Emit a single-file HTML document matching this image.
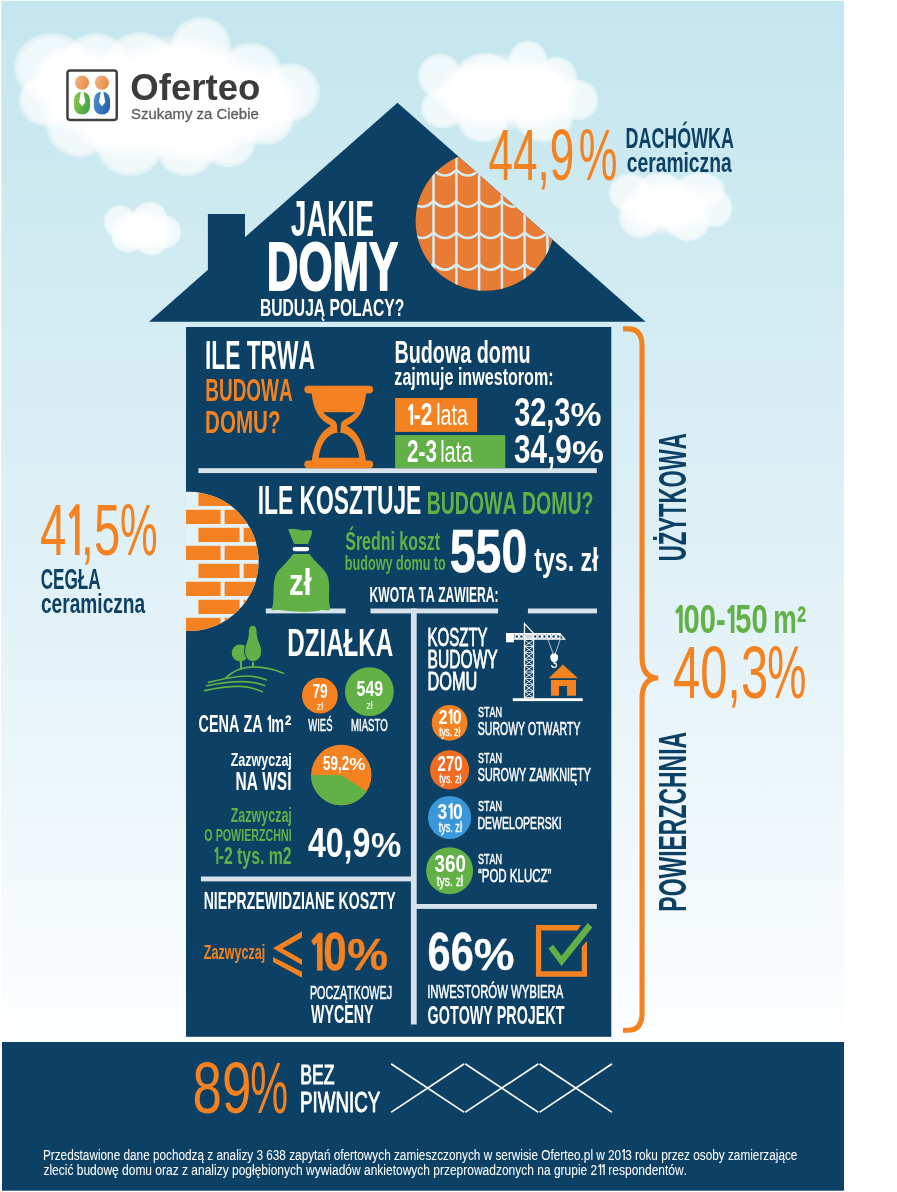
<!DOCTYPE html>
<html lang="pl">
<head>
<meta charset="utf-8">
<title>Jakie domy budują Polacy? – Oferteo</title>
<style>
html,body{margin:0;padding:0;background:#fff;}
body{width:897px;height:1192px;overflow:hidden;position:relative;}
svg{display:block;position:absolute;left:0;top:0;}
text{font-family:"Liberation Sans",sans-serif;font-kerning:none;white-space:pre;}
</style>
</head>
<body>
<svg width="897" height="1192" viewBox="0 0 897 1192">
<defs>
<linearGradient id="sky" x1="0" y1="0" x2="0" y2="1">
<stop offset="0" stop-color="#c4e6ee"/><stop offset="0.55" stop-color="#e0f1f7"/><stop offset="1" stop-color="#fdfeff"/>
</linearGradient>
<radialGradient id="cl"><stop offset="0" stop-color="#fff" stop-opacity="1"/><stop offset="0.6" stop-color="#fff" stop-opacity="1"/><stop offset="1" stop-color="#fff" stop-opacity="0"/></radialGradient>
<radialGradient id="cl2"><stop offset="0" stop-color="#fff" stop-opacity="0.72"/><stop offset="0.8" stop-color="#fff" stop-opacity="0.72"/><stop offset="0.93" stop-color="#fff" stop-opacity="0.45"/><stop offset="1" stop-color="#fff" stop-opacity="0"/></radialGradient>
<clipPath id="roofclip"><path d="M397.5 102.7 L645.6 321.8 L149 321.8 Z"/></clipPath>
<clipPath id="tileclip"><circle cx="485.3" cy="221.1" r="69.7"/></clipPath>
<clipPath id="brickclip"><circle cx="189" cy="561.4" r="69.6"/></clipPath>
<clipPath id="houseclip"><rect x="186" y="327" width="425.3" height="709.8"/></clipPath>
<linearGradient id="gOr" x1="0" y1="0" x2="1" y2="0.3"><stop offset="0" stop-color="#f2b683"/><stop offset="1" stop-color="#e98f4b"/></linearGradient>
<linearGradient id="gGr" x1="0" y1="0" x2="1" y2="0.3"><stop offset="0" stop-color="#8dc63f"/><stop offset="1" stop-color="#48a546"/></linearGradient>
<linearGradient id="gBl" x1="0" y1="0" x2="1" y2="0.3"><stop offset="0" stop-color="#5291d0"/><stop offset="1" stop-color="#2862ad"/></linearGradient>
</defs>
<rect x="1.2" y="0.8" width="842.8" height="1041.7" fill="url(#sky)"/>
<g><ellipse cx="52" cy="67" rx="39" ry="35" fill="url(#cl2)"/><ellipse cx="47" cy="100" rx="29" ry="27" fill="url(#cl2)"/><ellipse cx="80" cy="125" rx="35" ry="33" fill="url(#cl2)"/><ellipse cx="130" cy="144" rx="35" ry="33" fill="url(#cl2)"/><ellipse cx="186" cy="149" rx="30" ry="28" fill="url(#cl2)"/><ellipse cx="228" cy="141" rx="29" ry="27" fill="url(#cl2)"/><ellipse cx="265" cy="119" rx="29" ry="27" fill="url(#cl2)"/><ellipse cx="290" cy="92" rx="31" ry="30" fill="url(#cl2)"/><ellipse cx="250" cy="70" rx="32" ry="28" fill="url(#cl2)"/><ellipse cx="201" cy="46" rx="31" ry="30" fill="url(#cl2)"/><ellipse cx="140" cy="64" rx="36" ry="33" fill="url(#cl2)"/><ellipse cx="96" cy="62" rx="32" ry="30" fill="url(#cl2)"/><ellipse cx="90" cy="92" rx="60" ry="48" fill="url(#cl)"/><ellipse cx="150" cy="100" rx="75" ry="60" fill="url(#cl)"/><ellipse cx="200" cy="100" rx="75" ry="58" fill="url(#cl)"/><ellipse cx="250" cy="102" rx="58" ry="42" fill="url(#cl)"/><ellipse cx="180" cy="75" rx="62" ry="42" fill="url(#cl)"/><ellipse cx="120" cy="122" rx="52" ry="36" fill="url(#cl)"/><ellipse cx="195" cy="128" rx="58" ry="38" fill="url(#cl)"/><ellipse cx="70" cy="75" rx="40" ry="32" fill="url(#cl)"/></g>
<g><ellipse cx="440" cy="76" rx="23" ry="23" fill="url(#cl2)"/><ellipse cx="443" cy="108" rx="23" ry="21" fill="url(#cl2)"/><ellipse cx="483" cy="121" rx="26" ry="22" fill="url(#cl2)"/><ellipse cx="544" cy="118" rx="30" ry="25" fill="url(#cl2)"/><ellipse cx="578" cy="100" rx="21" ry="21" fill="url(#cl2)"/><ellipse cx="556" cy="78" rx="22" ry="22" fill="url(#cl2)"/><ellipse cx="528" cy="60" rx="20" ry="20" fill="url(#cl2)"/><ellipse cx="485" cy="76" rx="30" ry="24" fill="url(#cl2)"/><ellipse cx="505" cy="92" rx="66" ry="40" fill="url(#cl)"/><ellipse cx="478" cy="95" rx="44" ry="34" fill="url(#cl)"/><ellipse cx="538" cy="95" rx="44" ry="34" fill="url(#cl)"/></g>
<g><ellipse cx="120" cy="222" rx="17" ry="17" fill="url(#cl2)"/><ellipse cx="150" cy="218" rx="18" ry="17" fill="url(#cl2)"/><ellipse cx="165" cy="232" rx="17" ry="17" fill="url(#cl2)"/><ellipse cx="128" cy="238" rx="17" ry="15" fill="url(#cl2)"/><ellipse cx="152" cy="242" rx="16" ry="14" fill="url(#cl2)"/><ellipse cx="142" cy="230" rx="34" ry="22" fill="url(#cl)"/></g>
<g><ellipse cx="630" cy="193" rx="22" ry="20" fill="url(#cl2)"/><ellipse cx="660" cy="190" rx="24" ry="18" fill="url(#cl2)"/><ellipse cx="700" cy="190" rx="26" ry="18" fill="url(#cl2)"/><ellipse cx="715" cy="208" rx="18" ry="20" fill="url(#cl2)"/><ellipse cx="688" cy="223" rx="22" ry="19" fill="url(#cl2)"/><ellipse cx="640" cy="217" rx="22" ry="22" fill="url(#cl2)"/><ellipse cx="668" cy="207" rx="50" ry="29" fill="url(#cl)"/></g>
<rect x="67.45" y="70.45" width="49.3" height="49.5" rx="2.6" fill="#fcfefe" stroke="#404042" stroke-width="2.5"/>
<circle cx="82" cy="82.7" r="7.1" fill="url(#gOr)"/><circle cx="101.9" cy="82.7" r="7.1" fill="url(#gOr)"/>
<rect x="74.1" y="91.8" width="15.8" height="22.8" rx="7.6" fill="url(#gGr)"/>
<rect x="93.9" y="91.8" width="16.1" height="22.8" rx="7.7" fill="url(#gBl)"/>
<path d="M80.9 91.6 L83.4 91.6 L85.4 102.2 L82.1 106.2 L79 102.2 Z" fill="#fcfefe"/>
<path d="M100.8 91.6 L103.3 91.6 L105.3 102.2 L102 106.2 L98.9 102.2 Z" fill="#fcfefe"/>
<text transform="matrix(0.3659 0 0 0.3671 130.30 100.10)" font-size="100" font-weight="700" fill="#3b3b3d">Oferteo</text>
<text transform="matrix(0.1492 0 0 0.1424 131.12 118.70)" font-size="100" font-weight="400" fill="#5e5e60" stroke="#5e5e60" stroke-width="0.3" vector-effect="non-scaling-stroke" stroke-linejoin="round">Szukamy za Ciebie</text>
<path d="M397.5 102.7 L645.6 321.8 L149 321.8 Z" fill="#0c4064"/>
<rect x="207.9" y="214" width="37.1" height="60" fill="#0c4064"/>
<g clip-path="url(#roofclip)"><g clip-path="url(#tileclip)"><rect x="410" y="150" width="150" height="145" fill="#e87c35"/><g stroke="#d3edf3" stroke-width="2.5" fill="none"><path d="M433.5 150 V295"/><path d="M456.4 150 V295"/><path d="M479.1 150 V295"/><path d="M501.9 150 V295"/><path d="M524.6 150 V295"/><path d="M547.4 150 V295"/><path d="M410.7 169.8 Q422.1 181.4 433.5 169.8 M433.5 169.8 Q444.95 181.4 456.4 169.8 M456.4 169.8 Q467.75 181.4 479.1 169.8 M479.1 169.8 Q490.5 181.4 501.9 169.8 M501.9 169.8 Q513.25 181.4 524.6 169.8 M524.6 169.8 Q536.0 181.4 547.4 169.8 M547.4 169.8 Q558.8 181.4 570.2 169.8 "/><path d="M410.7 201.0 Q422.1 212.6 433.5 201.0 M433.5 201.0 Q444.95 212.6 456.4 201.0 M456.4 201.0 Q467.75 212.6 479.1 201.0 M479.1 201.0 Q490.5 212.6 501.9 201.0 M501.9 201.0 Q513.25 212.6 524.6 201.0 M524.6 201.0 Q536.0 212.6 547.4 201.0 M547.4 201.0 Q558.8 212.6 570.2 201.0 "/><path d="M410.7 232.3 Q422.1 243.9 433.5 232.3 M433.5 232.3 Q444.95 243.9 456.4 232.3 M456.4 232.3 Q467.75 243.9 479.1 232.3 M479.1 232.3 Q490.5 243.9 501.9 232.3 M501.9 232.3 Q513.25 243.9 524.6 232.3 M524.6 232.3 Q536.0 243.9 547.4 232.3 M547.4 232.3 Q558.8 243.9 570.2 232.3 "/><path d="M410.7 264.0 Q422.1 275.6 433.5 264.0 M433.5 264.0 Q444.95 275.6 456.4 264.0 M456.4 264.0 Q467.75 275.6 479.1 264.0 M479.1 264.0 Q490.5 275.6 501.9 264.0 M501.9 264.0 Q513.25 275.6 524.6 264.0 M524.6 264.0 Q536.0 275.6 547.4 264.0 M547.4 264.0 Q558.8 275.6 570.2 264.0 "/><path d="M410.7 295.2 Q422.1 306.8 433.5 295.2 M433.5 295.2 Q444.95 306.8 456.4 295.2 M456.4 295.2 Q467.75 306.8 479.1 295.2 M479.1 295.2 Q490.5 306.8 501.9 295.2 M501.9 295.2 Q513.25 306.8 524.6 295.2 M524.6 295.2 Q536.0 306.8 547.4 295.2 M547.4 295.2 Q558.8 306.8 570.2 295.2 "/></g></g></g>
<text transform="matrix(0.2829 0 0 0.4942 290.77 236.00)" font-size="100" font-weight="700" fill="#ffffff">JAKIE</text>
<text transform="matrix(0.4378 0 0 0.6904 266.87 289.70)" font-size="100" font-weight="700" fill="#ffffff" stroke="#ffffff" stroke-width="1.6" vector-effect="non-scaling-stroke" stroke-linejoin="round">DOMY</text>
<text transform="matrix(0.1566 0 0 0.2326 259.95 316.00)" font-size="100" font-weight="700" fill="#ffffff">BUDUJĄ POLACY?</text>
<text transform="matrix(0.4403 0 0 0.7257 488.59 180.10)" font-size="100" font-weight="400" fill="#f58220"><tspan x="0.00" y="0">44,9</tspan><tspan x="204.54" y="0.00" font-size="100.00" font-weight="400" textLength="87.90" lengthAdjust="spacingAndGlyphs">%</tspan></text>
<text transform="matrix(0.1788 0 0 0.2863 625.60 148.30)" font-size="100" font-weight="700" fill="#0c4064">DACHÓWKA</text>
<text transform="matrix(0.1928 0 0 0.2762 626.75 171.60)" font-size="100" font-weight="700" fill="#0c4064">ceramiczna</text>
<rect x="186" y="327" width="425.3" height="709.8" fill="#0c4064"/>
<rect x="2" y="1042" width="842" height="148.7" fill="#0c4064"/>
<rect x="198.4" y="468.2" width="398.4" height="4.9" fill="#d7e2eb"/>
<rect x="265.8" y="608.5" width="79.8" height="4.9" fill="#d7e2eb"/>
<rect x="370.5" y="608.5" width="127.6" height="4.9" fill="#d7e2eb"/>
<rect x="527.9" y="608.5" width="69.1" height="4.9" fill="#d7e2eb"/>
<rect x="410.9" y="608.5" width="5.8" height="416" fill="#d7e2eb"/>
<rect x="200.9" y="876.5" width="212" height="4.9" fill="#d7e2eb"/>
<rect x="414" y="904" width="182.8" height="4.9" fill="#d7e2eb"/>
<text transform="matrix(0.2277 0 0 0.3997 204.98 369.00)" font-size="100" font-weight="700" fill="#ffffff">ILE TRWA</text>
<text transform="matrix(0.1899 0 0 0.3052 205.23 401.00)" font-size="100" font-weight="700" fill="#f58220">BUDOWA</text>
<text transform="matrix(0.2056 0 0 0.3052 205.12 432.80)" font-size="100" font-weight="700" fill="#f58220">DOMU?</text>
<g fill="#f58220"><rect x="304.3" y="385.8" width="68.8" height="7.6" rx="3.8"/><rect x="304.3" y="460.6" width="68.8" height="7.6" rx="3.8"/><path d="M311.6 392 C313 410 319 420 331 425.7 C319 432 313.5 446 311.6 462 L366.2 462 C364.3 446 358.8 432 346.7 425.7 C358.8 420 364.8 410 366.2 392 Z"/></g>
<path d="M323.1 412.3 L355.2 412.3 C350 418.5 341.5 419 340.8 425 L340.4 432.4 L337.4 432.4 L337 425 C336.3 419 328 418.5 323.1 412.3 Z" fill="#0c4064"/>
<path d="M318.6 457.8 C321 441 329 433 338.8 432.6 C349 433 357 441 359.2 457.8 Z" fill="#0c4064"/>
<text transform="matrix(0.1978 0 0 0.3052 394.38 362.50)" font-size="100" font-weight="700" fill="#ffffff">Budowa domu</text>
<text transform="matrix(0.1612 0 0 0.2413 394.35 384.70)" font-size="100" font-weight="700" fill="#ffffff">zajmuje inwestorom:</text>
<rect x="395.1" y="398" width="82.1" height="33.9" fill="#f58220"/>
<rect x="395.1" y="435.1" width="110.2" height="33.1" fill="#62b146"/>
<text transform="matrix(0.2098 0 0 0.3086 406.75 425.00)" font-size="100" font-weight="700" fill="#ffffff"><tspan x="-4.44" y="0" font-family="NanumGothic,'Liberation Sans',sans-serif" font-weight="800" font-size="89.3">1</tspan><tspan x="33.05" y="0">-2 </tspan><tspan x="140.24" y="0.00" font-size="95.21" font-weight="400" textLength="151.21" lengthAdjust="spacingAndGlyphs">lata</tspan></text>
<text transform="matrix(0.2066 0 0 0.3114 407.08 462.20)" font-size="100" font-weight="700" fill="#ffffff"><tspan x="0.00" y="0">2-3 </tspan><tspan x="160.07" y="0.00" font-size="94.34" font-weight="400" textLength="155.57" lengthAdjust="spacingAndGlyphs">lata</tspan></text>
<text transform="matrix(0.2893 0 0 0.4114 514.14 426.10)" font-size="100" font-weight="700" fill="#ffffff"><tspan x="0.00" y="0">32,3</tspan><tspan x="194.93" y="0.00" font-size="80.90" font-weight="700" textLength="107.10" lengthAdjust="spacingAndGlyphs">%</tspan></text>
<text transform="matrix(0.2958 0 0 0.4086 514.12 462.90)" font-size="100" font-weight="700" fill="#ffffff"><tspan x="0.00" y="0">34,9</tspan><tspan x="196.01" y="0.00" font-size="79.02" font-weight="700" textLength="107.97" lengthAdjust="spacingAndGlyphs">%</tspan></text>
<g clip-path="url(#houseclip)"><g clip-path="url(#brickclip)"><rect x="120" y="488" width="145" height="146" fill="#e2f2f8"/><g fill="#f58220"><rect x="198.4" y="491.8" width="41.2" height="14.2"/><rect x="243.7" y="491.8" width="41.2" height="14.2"/><rect x="179.4" y="509.8" width="41.2" height="14.2"/><rect x="224.6" y="509.8" width="41.2" height="14.2"/><rect x="198.4" y="527.8" width="41.2" height="14.2"/><rect x="243.7" y="527.8" width="41.2" height="14.2"/><rect x="179.4" y="545.8" width="41.2" height="14.2"/><rect x="224.6" y="545.8" width="41.2" height="14.2"/><rect x="198.4" y="563.8" width="41.2" height="14.2"/><rect x="243.7" y="563.8" width="41.2" height="14.2"/><rect x="179.4" y="581.8" width="41.2" height="14.2"/><rect x="224.6" y="581.8" width="41.2" height="14.2"/><rect x="198.4" y="599.8" width="41.2" height="14.2"/><rect x="243.7" y="599.8" width="41.2" height="14.2"/><rect x="179.4" y="617.8" width="41.2" height="14.2"/><rect x="224.6" y="617.8" width="41.2" height="14.2"/><rect x="198.4" y="635.8" width="41.2" height="14.2"/><rect x="243.7" y="635.8" width="41.2" height="14.2"/></g></g></g>
<text transform="matrix(0.2283 0 0 0.3997 257.77 514.20)" font-size="100" font-weight="700" fill="#ffffff">ILE KOSZTUJE</text>
<text transform="matrix(0.1950 0 0 0.3110 426.70 513.70)" font-size="100" font-weight="700" fill="#62b146">BUDOWA DOMU?</text>
<text transform="matrix(0.1597 0 0 0.2486 345.24 549.90)" font-size="100" font-weight="700" fill="#62b146">Średni koszt</text>
<text transform="matrix(0.1263 0 0 0.1945 344.87 569.60)" font-size="100" font-weight="700" fill="#62b146">budowy domu to</text>
<text transform="matrix(0.4641 0 0 0.6143 449.77 571.50)" font-size="100" font-weight="700" fill="#ffffff" stroke="#ffffff" stroke-width="0.5" vector-effect="non-scaling-stroke" stroke-linejoin="round">550</text>
<text transform="matrix(0.2313 0 0 0.3393 534.22 571.30)" font-size="100" font-weight="700" fill="#ffffff">tys. zł</text>
<text transform="matrix(0.1211 0 0 0.2151 369.59 601.90)" font-size="100" font-weight="700" fill="#ffffff">KWOTA TA ZAWIERA:</text>
<g fill="#62b146"><path d="M288.1 529.6 C292 527.8 297 529.6 302 530.4 C305.5 530.9 308.5 529.6 311 530.2 C312.5 530.6 312.4 532.4 311.8 534 L308.2 544.1 L294.1 544.1 Z"/><path d="M293.1 554.1 L309.4 554.1 C314 561 321 566 325.5 572 C329.5 578 329.5 586 329 594 C328.8 601 329.5 605 330.4 609.6 C328 611.6 324 609.4 320 610.4 C312 612 300 611.8 290 611.2 C284 610.6 278 609.4 271.5 610.6 C273.5 604 273.6 598 273.6 590 C273.8 581 275 574 279.5 569.5 C284 565 289 560 293.1 554.1 Z"/></g>
<rect x="292.6" y="546.9" width="16.6" height="4.3" rx="2.1" fill="#fff"/>
<text transform="matrix(0.2918 0 0 0.3614 288.93 595.40)" font-size="100" font-weight="700" fill="#ffffff">zł</text>
<text transform="matrix(0.2419 0 0 0.3895 287.18 656.30)" font-size="100" font-weight="700" fill="#ffffff">DZIAŁKA</text>
<g fill="#62b146"><circle cx="240.2" cy="652.9" r="8.5"/><rect x="239.9" y="659" width="2.1" height="10.2"/><rect x="251.9" y="660" width="2.2" height="7.2"/><path d="M252.7 625.3 C255.5 625.3 257 628 257 631.4 C257 640 261.7 645 261.7 651 C261.7 657.5 257.5 661.6 253 661.6 C248.5 661.6 244.6 657.5 244.6 651 C244.6 645 248.5 640 248.5 631.4 C248.5 628 250 625.3 252.7 625.3 Z" stroke="#0c4064" stroke-width="1"/></g>
<g fill="none" stroke="#62b146" stroke-width="1.6" stroke-linecap="round"><path d="M225.3 678.4 C233 670.5 244 667 254 666.9 C265 667 275 669.6 283.4 673.2"/><path d="M208.4 682.4 C224 678.6 236 676.2 246 676 C254 676 260 677.4 266.2 679.8"/><path d="M206.6 685.8 C222 682.4 234 681.4 244 681.6 C252 681.8 258 683 264.6 685.6"/><path d="M204.6 690.6 C220 687.2 230 686.2 240 686.4 C248 686.6 255 688.4 262.4 691.8"/></g>
<text transform="matrix(0.1440 0 0 0.2471 198.61 731.60)" font-size="100" font-weight="700" fill="#ffffff"><tspan x="0.00" y="0">CENA ZA </tspan><tspan x="467.77" y="0" font-family="NanumGothic,'Liberation Sans',sans-serif" font-weight="800" font-size="89.3">1</tspan><tspan x="505.26" y="0">m</tspan><tspan x="597.68" y="9.32" font-size="108.71" font-weight="700" textLength="46.70" lengthAdjust="spacingAndGlyphs">²</tspan></text>
<circle cx="319.9" cy="695.6" r="17.9" fill="#f58220"/>
<circle cx="369.4" cy="691.6" r="24.4" fill="#62b146"/>
<text transform="matrix(0.1376 0 0 0.2057 312.41 698.00)" font-size="100" font-weight="700" fill="#ffffff">79</text>
<text transform="matrix(0.0903 0 0 0.1007 316.63 709.50)" font-size="100" font-weight="400" fill="#ffffff">zł</text>
<text transform="matrix(0.1587 0 0 0.2129 356.61 696.40)" font-size="100" font-weight="700" fill="#ffffff">549</text>
<text transform="matrix(0.0903 0 0 0.1034 366.13 708.50)" font-size="100" font-weight="400" fill="#ffffff">zł</text>
<text transform="matrix(0.0942 0 0 0.1599 308.36 731.20)" font-size="100" font-weight="400" fill="#ffffff" stroke="#ffffff" stroke-width="0.4" vector-effect="non-scaling-stroke" stroke-linejoin="round">WIEŚ</text>
<text transform="matrix(0.0961 0 0 0.1599 351.01 731.20)" font-size="100" font-weight="400" fill="#ffffff" stroke="#ffffff" stroke-width="0.4" vector-effect="non-scaling-stroke" stroke-linejoin="round">MIASTO</text>
<text transform="matrix(0.1252 0 0 0.1904 230.63 766.10)" font-size="100" font-weight="700" fill="#ffffff">Zazwyczaj</text>
<text transform="matrix(0.1550 0 0 0.2529 235.56 790.10)" font-size="100" font-weight="700" fill="#ffffff">NA WSI</text>
<circle cx="341.3" cy="775.0" r="30.2" fill="#f58220"/>
<path d="M341.3 775.0 L311.1 775.0 A30.2 30.2 0 0 0 366.60 791.49 Z" fill="#62b146"/>
<text transform="matrix(0.1349 0 0 0.2029 322.89 769.60)" font-size="100" font-weight="700" fill="#ffffff"><tspan x="0.00" y="0">59,2</tspan><tspan x="196.17" y="0.00" font-size="84.51" font-weight="700" textLength="119.57" lengthAdjust="spacingAndGlyphs">%</tspan></text>
<text transform="matrix(0.1252 0 0 0.1991 230.63 821.90)" font-size="100" font-weight="700" fill="#62b146">Zazwyczaj</text>
<text transform="matrix(0.1070 0 0 0.1714 204.36 841.00)" font-size="100" font-weight="700" fill="#62b146">O POWIERZCHNI</text>
<text transform="matrix(0.1582 0 0 0.2471 213.41 863.80)" font-size="100" font-weight="700" fill="#62b146"><tspan x="-4.44" y="0" font-family="NanumGothic,'Liberation Sans',sans-serif" font-weight="800" font-size="89.3">1</tspan><tspan x="33.05" y="0">-2 tys. m2</tspan></text>
<text transform="matrix(0.3210 0 0 0.4200 307.91 856.80)" font-size="100" font-weight="700" fill="#ffffff"><tspan x="0.00" y="0">40,9</tspan><tspan x="196.37" y="0.00" font-size="83.67" font-weight="700" textLength="94.55" lengthAdjust="spacingAndGlyphs">%</tspan></text>
<text transform="matrix(0.1412 0 0 0.2326 203.66 909.00)" font-size="100" font-weight="700" fill="#ffffff">NIEPRZEWIDZIANE KOSZTY</text>
<text transform="matrix(0.1254 0 0 0.2035 203.83 958.80)" font-size="100" font-weight="700" fill="#f58220">Zazwyczaj</text>
<path d="M302 931.3 L273 948.3 L302 964.9 L302 959.4 L282.4 948.6 L302 937.4 Z M273 957 L302 971.7 L302 977.7 L273 962.1 Z" fill="#f58220"/>
<text transform="matrix(0.4223 0 0 0.5371 309.29 969.90)" font-size="100" font-weight="700" fill="#f58220" stroke="#f58220" stroke-width="0.8" vector-effect="non-scaling-stroke" stroke-linejoin="round"><tspan x="-4.44" y="0" font-family="NanumGothic,'Liberation Sans',sans-serif" font-weight="800" font-size="89.3">1</tspan><tspan x="33.05" y="0">0</tspan><tspan x="89.90" y="0.00" font-size="82.98" font-weight="700" textLength="96.74" lengthAdjust="spacingAndGlyphs">%</tspan></text>
<text transform="matrix(0.1080 0 0 0.1757 309.91 998.60)" font-size="100" font-weight="400" fill="#ffffff" stroke="#ffffff" stroke-width="0.4" vector-effect="non-scaling-stroke" stroke-linejoin="round">POCZĄTKOWEJ</text>
<text transform="matrix(0.1425 0 0 0.2500 310.99 1023.30)" font-size="100" font-weight="700" fill="#ffffff">WYCENY</text>
<text transform="matrix(0.1499 0 0 0.2500 427.57 645.90)" font-size="100" font-weight="400" fill="#ffffff" stroke="#ffffff" stroke-width="0.7" vector-effect="non-scaling-stroke" stroke-linejoin="round">KOSZTY</text>
<text transform="matrix(0.1563 0 0 0.2500 427.52 668.00)" font-size="100" font-weight="400" fill="#ffffff" stroke="#ffffff" stroke-width="0.7" vector-effect="non-scaling-stroke" stroke-linejoin="round">BUDOWY</text>
<text transform="matrix(0.1633 0 0 0.2500 427.46 689.60)" font-size="100" font-weight="400" fill="#ffffff" stroke="#ffffff" stroke-width="0.7" vector-effect="non-scaling-stroke" stroke-linejoin="round">DOMU</text>
<g fill="none" stroke="#fff" stroke-width="1.3"><path d="M524.5 633 V698.5 M533.5 633 V698.5"/><path d="M524.5 640.0 L533.5 646.4 M533.5 640.0 L524.5 646.4 M524.5 646.4 H533.5 M524.5 646.4 L533.5 652.8 M533.5 646.4 L524.5 652.8 M524.5 652.8 H533.5 M524.5 652.8 L533.5 659.2 M533.5 652.8 L524.5 659.2 M524.5 659.2 H533.5 M524.5 659.2 L533.5 665.6 M533.5 659.2 L524.5 665.6 M524.5 665.6 H533.5 M524.5 665.6 L533.5 672.0 M533.5 665.6 L524.5 672.0 M524.5 672.0 H533.5 M524.5 672.0 L533.5 678.4 M533.5 672.0 L524.5 678.4 M524.5 678.4 H533.5 M524.5 678.4 L533.5 684.8 M533.5 678.4 L524.5 684.8 M524.5 684.8 H533.5 M524.5 684.8 L533.5 691.2 M533.5 684.8 L524.5 691.2 M524.5 691.2 H533.5 M524.5 691.2 L533.5 697.6 M533.5 691.2 L524.5 697.6 M524.5 697.6 H533.5 " stroke-width="0.9"/><path d="M524.5 634 V623.6 L533.6 633.4"/><path d="M513 633.6 H560 L564.6 639.2 H513 Z"/><circle cx="516.8" cy="636.4" r="1.9"/><circle cx="521.4" cy="636.4" r="1.9"/><circle cx="535.2" cy="636.4" r="1.9"/><circle cx="539.8" cy="636.4" r="1.9"/><circle cx="544.4" cy="636.4" r="1.9"/><circle cx="549.0" cy="636.4" r="1.9"/><circle cx="553.6" cy="636.4" r="1.9"/><circle cx="558.2" cy="636.4" r="1.9"/><path d="M548 639.6 L553.4 654.5 M560.2 639.6 L555 654.5" stroke-width="0.7"/><path d="M554.2 660 V663 C557.5 663.5 557 667.6 554 667.4 C552.2 667.2 551.6 666 551.8 665" stroke-width="1.3"/></g>
<rect x="506" y="633" width="8" height="9.3" fill="#fff"/>
<rect x="524" y="633" width="10" height="6.8" fill="#fff" opacity="0.8"/>
<path d="M554.2 653.6 C557.6 653.6 558.4 656 558 658.4 C557.6 661 555.8 662.2 554.2 662.2 C552.6 662.2 550.8 661 550.4 658.4 C550 656 550.8 653.6 554.2 653.6 Z" fill="#fff"/>
<rect x="512.8" y="698.2" width="70" height="2.9" fill="#fff"/>
<path d="M562.9 664.4 L577.9 678.3 L548.6 678.3 Z M551 680 H576 V695.8 H567 V686 H559 V695.8 H551 Z" fill="#f58220"/>
<circle cx="449.6" cy="722.8" r="17.9" fill="#f58220"/>
<text transform="matrix(0.1580 0 0 0.2029 438.75 724.20)" font-size="100" font-weight="700" fill="#ffffff"><tspan x="0.00" y="0">2</tspan><tspan x="51.17" y="0" font-family="NanumGothic,'Liberation Sans',sans-serif" font-weight="800" font-size="89.3">1</tspan><tspan x="88.66" y="0">0</tspan></text>
<text transform="matrix(0.0825 0 0 0.1186 439.18 735.50)" font-size="100" font-weight="400" fill="#ffffff" stroke="#ffffff" stroke-width="0.35" vector-effect="non-scaling-stroke" stroke-linejoin="round">tys. zł</text>
<text transform="matrix(0.0909 0 0 0.1471 477.89 716.70)" font-size="100" font-weight="400" fill="#ffffff" stroke="#ffffff" stroke-width="0.4" vector-effect="non-scaling-stroke" stroke-linejoin="round">STAN</text>
<text transform="matrix(0.1051 0 0 0.1757 477.82 734.60)" font-size="100" font-weight="400" fill="#ffffff" stroke="#ffffff" stroke-width="0.45" vector-effect="non-scaling-stroke" stroke-linejoin="round">SUROWY OTWARTY</text>
<circle cx="449.6" cy="769.9" r="19.6" fill="#f26b21"/>
<text transform="matrix(0.1494 0 0 0.2143 437.58 770.90)" font-size="100" font-weight="700" fill="#ffffff">270</text>
<text transform="matrix(0.0872 0 0 0.1324 439.17 783.10)" font-size="100" font-weight="400" fill="#ffffff" stroke="#ffffff" stroke-width="0.35" vector-effect="non-scaling-stroke" stroke-linejoin="round">tys. zł</text>
<text transform="matrix(0.0909 0 0 0.1471 477.89 763.30)" font-size="100" font-weight="400" fill="#ffffff" stroke="#ffffff" stroke-width="0.4" vector-effect="non-scaling-stroke" stroke-linejoin="round">STAN</text>
<text transform="matrix(0.1079 0 0 0.1757 477.81 781.20)" font-size="100" font-weight="400" fill="#ffffff" stroke="#ffffff" stroke-width="0.45" vector-effect="non-scaling-stroke" stroke-linejoin="round">SUROWY ZAMKNIĘTY</text>
<circle cx="449.6" cy="817.5" r="21.6" fill="#3a97d9"/>
<text transform="matrix(0.1741 0 0 0.2214 437.60 819.20)" font-size="100" font-weight="700" fill="#ffffff"><tspan x="0.00" y="0">3</tspan><tspan x="51.17" y="0" font-family="NanumGothic,'Liberation Sans',sans-serif" font-weight="800" font-size="89.3">1</tspan><tspan x="88.66" y="0">0</tspan></text>
<text transform="matrix(0.0912 0 0 0.1434 438.66 831.70)" font-size="100" font-weight="400" fill="#ffffff" stroke="#ffffff" stroke-width="0.35" vector-effect="non-scaling-stroke" stroke-linejoin="round">tys. zł</text>
<text transform="matrix(0.0909 0 0 0.1543 477.89 811.10)" font-size="100" font-weight="400" fill="#ffffff" stroke="#ffffff" stroke-width="0.4" vector-effect="non-scaling-stroke" stroke-linejoin="round">STAN</text>
<text transform="matrix(0.1054 0 0 0.1714 477.44 828.80)" font-size="100" font-weight="400" fill="#ffffff" stroke="#ffffff" stroke-width="0.45" vector-effect="non-scaling-stroke" stroke-linejoin="round">DEWELOPERSKI</text>
<circle cx="449.6" cy="870.7" r="23.5" fill="#62b146"/>
<text transform="matrix(0.1882 0 0 0.2429 434.47 872.20)" font-size="100" font-weight="700" fill="#ffffff">360</text>
<text transform="matrix(0.1034 0 0 0.1531 436.74 886.40)" font-size="100" font-weight="400" fill="#ffffff" stroke="#ffffff" stroke-width="0.35" vector-effect="non-scaling-stroke" stroke-linejoin="round">tys. zł</text>
<text transform="matrix(0.0909 0 0 0.1486 477.89 864.40)" font-size="100" font-weight="400" fill="#ffffff" stroke="#ffffff" stroke-width="0.4" vector-effect="non-scaling-stroke" stroke-linejoin="round">STAN</text>
<text transform="matrix(0.1151 0 0 0.1757 477.88 882.30)" font-size="100" font-weight="400" fill="#ffffff" stroke="#ffffff" stroke-width="0.45" vector-effect="non-scaling-stroke" stroke-linejoin="round">“POD KLUCZ”</text>
<text transform="matrix(0.4146 0 0 0.5457 427.58 970.00)" font-size="100" font-weight="700" fill="#ffffff" stroke="#ffffff" stroke-width="0.6" vector-effect="non-scaling-stroke" stroke-linejoin="round"><tspan x="0.00" y="0">66</tspan><tspan x="111.14" y="0.00" font-size="82.72" font-weight="700" textLength="98.29" lengthAdjust="spacingAndGlyphs">%</tspan></text>
<path d="M535.9 925 H581 L577.3 930.5 H541.2 V971.2 H581.8 V946.8 L587 940.9 V976.7 H535.9 Z" fill="#f58220"/>
<path d="M553 944.7 L561.5 955.7 L587.7 923.1 L592.3 927.4 L561.5 966 L548.4 948.4 Z" fill="#62b146"/>
<text transform="matrix(0.1136 0 0 0.1743 427.15 998.40)" font-size="100" font-weight="400" fill="#ffffff" stroke="#ffffff" stroke-width="0.45" vector-effect="non-scaling-stroke" stroke-linejoin="round">INWESTORÓW WYBIERA</text>
<text transform="matrix(0.1433 0 0 0.2543 427.61 1023.50)" font-size="100" font-weight="700" fill="#ffffff">GOTOWY PROJEKT</text>
<path d="M622.7 328.9 H628 C637 328.9 641.8 334 641.8 346 V657 Q641.8 678 658 678 Q641.8 678 641.8 699 V1013 C641.8 1025 637 1030.2 628 1030.2 H622.7" fill="none" stroke="#f58220" stroke-width="5.1" transform="translate(0.25 0)"/>
<text transform="translate(686.1 559.9) rotate(-90) matrix(0.2216 0 0 0.3881 -1.33 0.00)" font-size="100" font-weight="700" fill="#0c4064">UŻYTKOWA</text>
<text transform="translate(686.1 910.1) rotate(-90) matrix(0.2295 0 0 0.3881 -1.53 0.00)" font-size="100" font-weight="700" fill="#0c4064">POWIERZCHNIA</text>
<text transform="matrix(0.2916 0 0 0.4086 673.84 632.60)" font-size="100" font-weight="700" fill="#62b146"><tspan x="-4.44" y="0" font-family="NanumGothic,'Liberation Sans',sans-serif" font-weight="800" font-size="89.3">1</tspan><tspan x="33.05" y="0">00-</tspan><tspan x="173.13" y="0" font-family="NanumGothic,'Liberation Sans',sans-serif" font-weight="800" font-size="89.3">1</tspan><tspan x="210.63" y="0">50 </tspan><tspan x="340.59" y="0.00" font-size="98.14" font-weight="700" textLength="80.51" lengthAdjust="spacingAndGlyphs">m</tspan><tspan x="422.03" y="11.70" font-size="108.20" font-weight="700" textLength="31.82" lengthAdjust="spacingAndGlyphs">²</tspan></text>
<text transform="matrix(0.4890 0 0 0.7371 672.98 698.40)" font-size="100" font-weight="400" fill="#f58220"><tspan x="0.00" y="0">40,3</tspan><tspan x="192.75" y="0.00" font-size="100.00" font-weight="400" textLength="80.04" lengthAdjust="spacingAndGlyphs">%</tspan></text>
<text transform="matrix(0.4728 0 0 0.7257 40.11 554.70)" font-size="100" font-weight="400" fill="#f58220"><tspan x="0.00" y="0">4</tspan><tspan x="48.91" y="0" font-family="NanumGothic,'Liberation Sans',sans-serif" font-weight="700" font-size="91.1">1</tspan><tspan x="85.96" y="0">,5</tspan><tspan x="168.95" y="0.00" font-size="100.00" font-weight="400" textLength="79.56" lengthAdjust="spacingAndGlyphs">%</tspan></text>
<text transform="matrix(0.1716 0 0 0.2943 40.70 589.40)" font-size="100" font-weight="700" fill="#0c4064">CEGŁA</text>
<text transform="matrix(0.1915 0 0 0.2762 40.95 612.70)" font-size="100" font-weight="700" fill="#0c4064">ceramiczna</text>
<text transform="matrix(0.5296 0 0 0.7286 192.50 1113.00)" font-size="100" font-weight="400" fill="#f58220"><tspan x="0.00" y="0">89</tspan><tspan x="109.11" y="0.00" font-size="100.00" font-weight="400" textLength="71.43" lengthAdjust="spacingAndGlyphs">%</tspan></text>
<text transform="matrix(0.1769 0 0 0.2820 300.15 1083.80)" font-size="100" font-weight="400" fill="#ffffff" stroke="#ffffff" stroke-width="0.8" vector-effect="non-scaling-stroke" stroke-linejoin="round">BEZ</text>
<text transform="matrix(0.1878 0 0 0.2878 300.06 1112.00)" font-size="100" font-weight="400" fill="#ffffff" stroke="#ffffff" stroke-width="0.8" vector-effect="non-scaling-stroke" stroke-linejoin="round">PIWNICY</text>
<path d="M391.7 1064.2 L463.6 1111.9 M391.7 1111.9 L463.6 1064.2 M465.8 1064.2 L537.7 1111.9 M465.8 1111.9 L537.7 1064.2 M540.1 1064.2 L611.4 1111.9 M540.1 1111.9 L611.4 1064.2 " stroke="#fff" stroke-width="1.7" fill="none" stroke-linecap="round"/>
<text transform="matrix(0.1179 0 0 0.1424 42.93 1160.00)" font-size="100" font-weight="400" fill="#ffffff" stroke="#ffffff" stroke-width="0.25" vector-effect="non-scaling-stroke" stroke-linejoin="round"><tspan x="0.00" y="0">Przedstawione dane pochodzą z analizy 3 638 zapytań ofertowych zamieszczonych w serwisie Oferteo.pl w 20</tspan><tspan x="4901.40" y="0" font-family="NanumGothic,'Liberation Sans',sans-serif" font-weight="700" font-size="91.1">1</tspan><tspan x="4938.45" y="0">3 roku przez osoby zamierzające</tspan></text>
<text transform="matrix(0.1200 0 0 0.1424 43.41 1174.70)" font-size="100" font-weight="400" fill="#ffffff" stroke="#ffffff" stroke-width="0.25" vector-effect="non-scaling-stroke" stroke-linejoin="round"><tspan x="0.00" y="0">zlecić budowę domu oraz z analizy pogłębionych wywiadów ankietowych przeprowadzonych na grupie 2</tspan><tspan x="4612.53" y="0" font-family="NanumGothic,'Liberation Sans',sans-serif" font-weight="700" font-size="91.1">1</tspan><tspan x="4642.88" y="0" font-family="NanumGothic,'Liberation Sans',sans-serif" font-weight="700" font-size="91.1">1</tspan><tspan x="4679.92" y="0"> respondentów.</tspan></text>
</svg>
</body>
</html>
